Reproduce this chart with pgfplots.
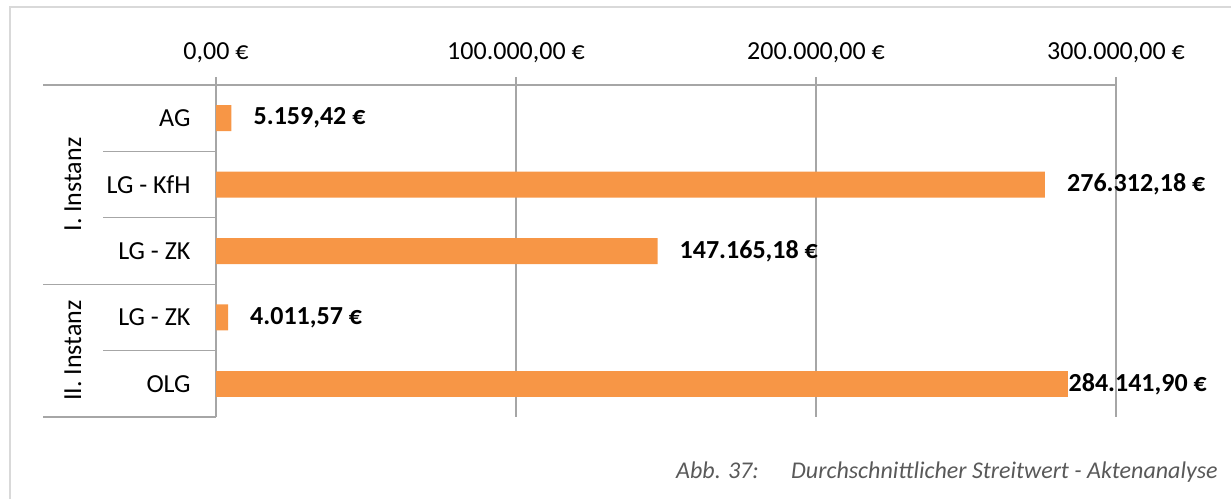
\documentclass[border=0pt]{standalone}
\usepackage{fontspec}
\setmainfont{Carlito}
\usepackage{pgfplots}
\pgfplotsset{compat=1.18}
\definecolor{barorange}{HTML}{F79646}
\definecolor{axgray}{HTML}{A6A6A6}
\definecolor{bordergray}{HTML}{D9D9D9}
\definecolor{capgray}{HTML}{595959}
\begin{document}
\begin{tikzpicture}[x=1pt,y=1pt]
\path[use as bounding box] (0,0) rectangle (1231,498);
\draw[bordergray, line width=2pt] (10,-2) -- (10,491) -- (1233,491);
\begin{axis}[
  at={(216pt,81pt)}, anchor=south west,
  scale only axis, width=900pt, height=332pt,
  xbar, bar width=26pt, bar shift=0pt,
  xmin=0, xmax=300000,
  ymin=0.5, ymax=5.5, y dir=reverse,
  clip=false,
  axis x line*=top, axis y line*=left,
  axis line style={axgray, line width=1.3pt, -},
  xtick={0,100000,200000,300000},
  xticklabels={{0,00 €},{100.000,00 €},{200.000,00 €},{300.000,00 €}},
  scaled ticks=false,
  tick align=outside, major tick length=8pt,
  xtick style={axgray, line width=1.3pt},
  ytick={1,2,3,4,5},
  yticklabels={AG,LG - KfH,LG - ZK,LG - ZK,OLG},
  ytick style={draw=none},
  xmajorgrids, grid style={axgray, line width=1.3pt},
  tick label style={font=\fontsize{26}{31}\selectfont, text=black},
  xticklabel style={anchor=base, yshift=18pt},
  yticklabel style={anchor=east, xshift=-14pt},
  point meta=explicit symbolic,
  nodes near coords,
  every node near coord/.append style={font=\fontsize{26}{31}\selectfont\bfseries, text=black, anchor=west, inner sep=0pt},
]
\addplot[fill=barorange, draw=none, every node near coord/.append style={xshift=22pt}] coordinates {
  (5159.42,1) [5.159,42 €]
  (276312.18,2) [276.312,18 €]
  (147165.18,3) [147.165,18 €]
  (4011.57,4) [4.011,57 €]
};
\addplot[fill=barorange, draw=none, every node near coord/.append style={xshift=0pt}] coordinates {
  (284141.90,5) [284.141,90 €]
};
\draw[axgray, line width=1.3pt] (axis cs:0,0.5) -- ([xshift=-173pt]axis cs:0,0.5);
\draw[axgray, line width=1.3pt] (axis cs:0,3.5) -- ([xshift=-173pt]axis cs:0,3.5);
\draw[axgray, line width=1.3pt] (axis cs:0,5.5) -- ([xshift=-173pt]axis cs:0,5.5);
\draw[axgray, line width=1.3pt] (axis cs:0,1.5) -- ([xshift=-113pt]axis cs:0,1.5);
\draw[axgray, line width=1.3pt] (axis cs:0,2.5) -- ([xshift=-113pt]axis cs:0,2.5);
\draw[axgray, line width=1.3pt] (axis cs:0,4.5) -- ([xshift=-113pt]axis cs:0,4.5);
\node[rotate=90, font=\fontsize{26}{31}\selectfont] at ([xshift=-143pt]axis cs:0,2) {I. Instanz};
\node[rotate=90, font=\fontsize{26}{31}\selectfont] at ([xshift=-143pt]axis cs:0,4.5) {II. Instanz};
\end{axis}
\node[anchor=base west, inner sep=0pt, text=capgray, font=\fontsize{24}{28}\selectfont\itshape] at (676,20) {Abb. 37:};
\node[anchor=base west, inner sep=0pt, text=capgray, font=\fontsize{24}{28}\selectfont\itshape] at (791,20) {Durchschnittlicher Streitwert - Aktenanalyse};
\end{tikzpicture}
\end{document}
